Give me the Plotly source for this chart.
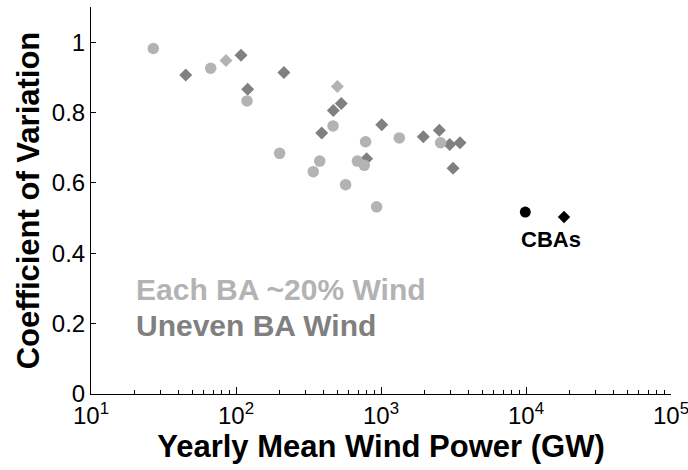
import plotly.graph_objects as go

# Each BA ~20% Wind (light gray)
even_circ_x = [26.9, 66.9, 119.1, 200, 341, 378, 467, 570, 687, 767, 783, 933, 1337, 2576]
even_circ_y = [0.982, 0.926, 0.833, 0.684, 0.632, 0.662, 0.762, 0.595, 0.662, 0.650, 0.717, 0.532, 0.728, 0.714]
even_diam_x = [85.3, 500]
even_diam_y = [0.948, 0.874]

# Uneven BA Wind (dark gray)
uneven_x = [45, 108.3, 120.4, 214, 390, 469, 532, 796, 1012, 1959, 2525, 2976, 3142, 3508]
uneven_y = [0.907, 0.963, 0.866, 0.914, 0.742, 0.806, 0.826, 0.669, 0.765, 0.731, 0.750, 0.709, 0.642, 0.714]

# CBAs (black)
cba_circ_x = [9890]
cba_circ_y = [0.517]
cba_diam_x = [18290]
cba_diam_y = [0.503]

LIGHT = "#b3b3b3"
DARK = "#808080"
FONT = "Arial, Liberation Sans, sans-serif"

fig = go.Figure()
fig.add_trace(go.Scatter(x=uneven_x, y=uneven_y, mode="markers",
                         marker=dict(symbol="diamond", size=10, color=DARK, line=dict(width=0))))
fig.add_trace(go.Scatter(x=even_diam_x, y=even_diam_y, mode="markers",
                         marker=dict(symbol="diamond", size=10, color=LIGHT, line=dict(width=0))))
fig.add_trace(go.Scatter(x=even_circ_x, y=even_circ_y, mode="markers",
                         marker=dict(symbol="circle", size=11.5, color=LIGHT, line=dict(width=0))))
fig.add_trace(go.Scatter(x=cba_circ_x, y=cba_circ_y, mode="markers",
                         marker=dict(symbol="circle", size=11, color="black", line=dict(width=0))))
fig.add_trace(go.Scatter(x=cba_diam_x, y=cba_diam_y, mode="markers",
                         marker=dict(symbol="diamond", size=9.5, color="black", line=dict(width=0))))

decades = [1, 2, 3, 4, 5]
minor_vals = [m * 10 ** d for d in range(1, 5) for m in range(2, 10)]

fig.update_layout(
    width=688, height=470,
    margin=dict(l=91, r=17, t=7, b=76),
    paper_bgcolor="white", plot_bgcolor="white",
    showlegend=False,
    font=dict(family=FONT, color="black"),
    xaxis=dict(
        type="log", range=[1, 5],
        automargin=False, ticklabeloverflow="allow",
        tickmode="array",
        tickvals=[10 ** d for d in decades],
        ticktext=[f"10<sup>{d}</sup>" for d in decades],
        ticks="inside", ticklen=7, tickwidth=1, tickcolor="black",
        minor=dict(tickmode="array", tickvals=minor_vals, ticks="inside", ticklen=4,
                   tickwidth=1, tickcolor="black", showgrid=False),
        showline=True, linecolor="black", linewidth=1,
        showgrid=False, zeroline=False,
        tickfont=dict(size=24, family=FONT),
        title=dict(text="<b>Yearly Mean Wind Power (GW)</b>", font=dict(size=31, family=FONT), standoff=0),
    ),
    yaxis=dict(
        range=[0, 1.1],
        automargin=False,
        tickmode="array", tickvals=[0, 0.2, 0.4, 0.6, 0.8, 1],
        ticktext=["0", "0.2", "0.4", "0.6", "0.8", "1"],
        ticks="inside", ticklen=5, tickwidth=1, tickcolor="black",
        showline=True, linecolor="black", linewidth=1,
        showgrid=False, zeroline=False,
        tickfont=dict(size=24, family=FONT),
        title=dict(text="<b>Coefficient of Variation</b>", font=dict(size=31, family=FONT), standoff=2),
    ),
    annotations=[
        dict(text="<b>Each BA ~20% Wind</b>", xref="paper", yref="paper", x=0.074, y=0.269,
             xanchor="left", yanchor="middle", showarrow=False,
             font=dict(size=30, color=LIGHT, family=FONT)),
        dict(text="<b>Uneven BA Wind</b>", xref="paper", yref="paper", x=0.074, y=0.178,
             xanchor="left", yanchor="middle", showarrow=False,
             font=dict(size=30, color=DARK, family=FONT)),
        dict(text="<b>CBAs</b>", xref="paper", yref="paper", x=0.793, y=0.398,
             xanchor="center", yanchor="middle", showarrow=False,
             font=dict(size=22, color="black", family=FONT)),
    ],
)

fig.write_html("out.html")
